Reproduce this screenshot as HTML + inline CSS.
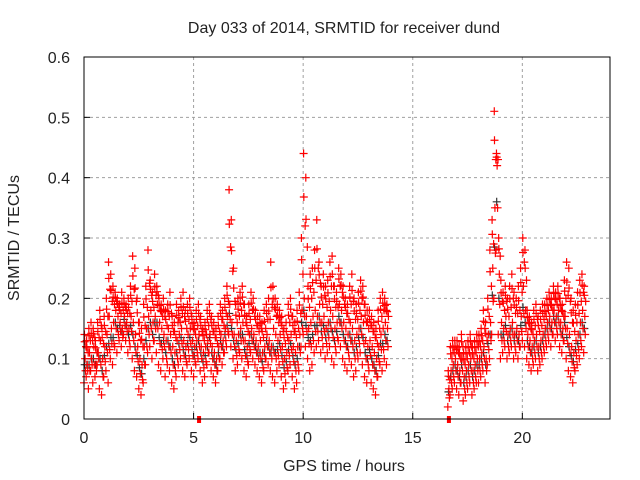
<!DOCTYPE html>
<html><head><meta charset="utf-8"><style>
body{margin:0;background:#fff}
svg{display:block;font-family:"Liberation Sans",sans-serif}
</style></head><body>
<svg id="c" width="640" height="480">
<rect width="640" height="480" fill="#fff"/>
<text x="344" y="33" font-size="16" fill="#222" text-anchor="middle">Day 033 of 2014, SRMTID for receiver dund</text>
<text x="344" y="471" font-size="16" fill="#222" text-anchor="middle">GPS time / hours</text>
<text transform="translate(19,238) rotate(-90)" font-size="16" fill="#222" text-anchor="middle">SRMTID / TECUs</text>
<g id="grid"></g><g id="ticks"></g><g id="marks"></g>
<rect x="84" y="57" width="526" height="362" fill="none" stroke="#000" stroke-width="1"/>
</svg>
<script>
const segStart=[0.0,16.6];
const lo1=[0.06,0.07,0.05,0.08,0.06,0.07,0.09,0.05,0.04,0.07,0.08,0.06,0.10,0.09,0.12,0.11,0.13,0.12,0.14,0.13,0.11,0.12,0.10,0.08,0.07,0.05,0.04,0.06,0.09,0.11,0.12,0.10,0.13,0.11,0.09,0.08,0.10,0.07,0.09,0.08,0.06,0.05,0.07,0.09,0.10,0.08,0.07,0.09,0.10,0.08,0.07,0.09,0.10,0.08,0.06,0.07,0.09,0.11,0.08,0.07,0.06,0.08,0.10,0.09,0.11,0.12,0.14,0.12,0.10,0.08,0.09,0.11,0.10,0.08,0.07,0.09,0.11,0.10,0.09,0.08,0.07,0.06,0.08,0.10,0.09,0.08,0.07,0.06,0.08,0.09,0.07,0.05,0.06,0.08,0.09,0.07,0.05,0.06,0.08,0.12,0.14,0.12,0.10,0.08,0.09,0.11,0.12,0.13,0.11,0.12,0.10,0.11,0.12,0.10,0.09,0.11,0.13,0.12,0.10,0.09,0.08,0.10,0.09,0.07,0.08,0.10,0.11,0.09,0.07,0.06,0.08,0.06,0.05,0.04,0.07,0.09,0.08,0.10,0.09];
const mid1=[0.10,0.09,0.11,0.10,0.12,0.09,0.11,0.13,0.10,0.12,0.14,0.17,0.15,0.16,0.18,0.17,0.16,0.15,0.17,0.16,0.15,0.17,0.16,0.14,0.12,0.10,0.09,0.12,0.15,0.17,0.18,0.16,0.17,0.19,0.16,0.15,0.14,0.13,0.15,0.14,0.12,0.11,0.13,0.14,0.15,0.13,0.12,0.14,0.15,0.13,0.12,0.13,0.14,0.12,0.11,0.12,0.13,0.14,0.12,0.11,0.10,0.12,0.14,0.13,0.15,0.17,0.19,0.16,0.14,0.13,0.14,0.15,0.16,0.13,0.12,0.14,0.15,0.14,0.13,0.12,0.13,0.11,0.12,0.14,0.13,0.12,0.15,0.14,0.13,0.14,0.12,0.10,0.11,0.13,0.14,0.12,0.11,0.12,0.14,0.18,0.20,0.17,0.15,0.16,0.17,0.18,0.17,0.19,0.16,0.17,0.15,0.16,0.18,0.17,0.15,0.16,0.19,0.18,0.16,0.15,0.14,0.16,0.15,0.13,0.14,0.15,0.17,0.16,0.13,0.12,0.13,0.12,0.11,0.10,0.12,0.14,0.15,0.16,0.15];
const hi1=[0.14,0.13,0.15,0.16,0.15,0.13,0.16,0.18,0.15,0.17,0.20,0.26,0.24,0.22,0.21,0.20,0.19,0.21,0.20,0.19,0.20,0.22,0.27,0.25,0.20,0.16,0.15,0.19,0.22,0.28,0.23,0.21,0.24,0.22,0.20,0.19,0.20,0.18,0.19,0.21,0.17,0.16,0.19,0.18,0.20,0.21,0.18,0.19,0.20,0.17,0.16,0.18,0.19,0.17,0.15,0.16,0.18,0.19,0.17,0.16,0.15,0.17,0.19,0.18,0.20,0.22,0.38,0.33,0.25,0.19,0.20,0.21,0.22,0.19,0.17,0.19,0.21,0.20,0.18,0.17,0.17,0.16,0.18,0.19,0.20,0.26,0.22,0.20,0.19,0.18,0.17,0.15,0.16,0.19,0.20,0.17,0.16,0.18,0.21,0.30,0.44,0.40,0.22,0.24,0.25,0.28,0.33,0.26,0.22,0.24,0.22,0.23,0.26,0.27,0.22,0.21,0.25,0.24,0.22,0.20,0.19,0.22,0.24,0.20,0.19,0.21,0.23,0.22,0.19,0.18,0.18,0.17,0.16,0.15,0.18,0.20,0.21,0.20,0.19];
const lo2=[0.02,0.04,0.05,0.06,0.05,0.04,0.06,0.03,0.04,0.05,0.06,0.04,0.05,0.06,0.06,0.07,0.08,0.06,0.09,0.10,0.14,0.20,0.28,0.14,0.10,0.11,0.12,0.10,0.11,0.12,0.10,0.11,0.10,0.12,0.13,0.12,0.10,0.09,0.08,0.09,0.10,0.08,0.09,0.10,0.11,0.12,0.13,0.12,0.14,0.13,0.14,0.12,0.11,0.13,0.10,0.08,0.07,0.06,0.08,0.09,0.10,0.12,0.11];
const mid2=[0.05,0.08,0.09,0.10,0.09,0.08,0.10,0.07,0.08,0.09,0.10,0.08,0.09,0.10,0.10,0.11,0.12,0.10,0.14,0.16,0.25,0.35,0.42,0.24,0.16,0.15,0.17,0.14,0.15,0.16,0.14,0.15,0.14,0.17,0.22,0.18,0.14,0.13,0.12,0.13,0.14,0.12,0.13,0.14,0.15,0.16,0.17,0.16,0.18,0.17,0.18,0.16,0.15,0.17,0.15,0.14,0.12,0.11,0.13,0.14,0.16,0.18,0.17];
const hi2=[0.08,0.12,0.13,0.13,0.13,0.12,0.14,0.11,0.12,0.13,0.14,0.12,0.13,0.14,0.14,0.15,0.18,0.16,0.20,0.28,0.33,0.51,0.44,0.30,0.23,0.21,0.22,0.20,0.22,0.24,0.21,0.20,0.22,0.25,0.30,0.28,0.18,0.17,0.16,0.18,0.19,0.17,0.18,0.19,0.19,0.20,0.21,0.20,0.22,0.21,0.22,0.20,0.19,0.23,0.26,0.25,0.20,0.18,0.19,0.21,0.23,0.24,0.22];
const xTicks=[0,5,10,15,20];
const yTicks=[0,0.1,0.2,0.3,0.4,0.5,0.6];
const gapMarks=[5.25,16.65];
const X0=84,X1=610,Y0=419,Y1=57,XMAX=24,YMAX=0.6;
const sx=v=>X0+v/XMAX*(X1-X0), sy=v=>Y0-v/YMAX*(Y0-Y1);
const NS='http://www.w3.org/2000/svg';
function mk(p,tag,a){const e=document.createElementNS(NS,tag);for(const k in a)e.setAttribute(k,a[k]);p.appendChild(e);return e;}
const grid=document.getElementById('grid'),ticks=document.getElementById('ticks'),marks=document.getElementById('marks');
xTicks.forEach(t=>{const x=sx(t);
 if(t>0){const g=mk(grid,'line',{x1:x,x2:x,y1:Y1,y2:Y0,stroke:'#a0a0a0','stroke-dasharray':'3,3'});
 
 }
 const l=mk(ticks,'line',{x1:x,x2:x,y1:Y0,y2:Y0-6,stroke:'#000'});
 
 
 const tx=mk(ticks,'text',{x:x,y:Y0+24,'font-size':16,fill:'#222','text-anchor':'middle'});tx.textContent=t;
 
 });
yTicks.forEach(t=>{const y=sy(t);
 if(t>0&&t<0.6){const g=mk(grid,'line',{x1:X0,x2:X1,y1:y,y2:y,stroke:'#a0a0a0','stroke-dasharray':'3,3'});
 
 }
 const l=mk(ticks,'line',{x1:X0,x2:X0+6,y1:y,y2:y,stroke:'#000'});
 
 
 const tx=mk(ticks,'text',{x:X0-14,y:y+6,'font-size':16,fill:'#222','text-anchor':'end'});tx.textContent=t===0?'0':t.toFixed(1);
 
 });
function cross(t,v,col,name){const x=sx(t),y=sy(v);
 const p=mk(marks,'path',{d:`M${x-4},${y}h8M${x},${y-4}v8`,stroke:col,'stroke-width':1.2,fill:'none'});
 
 }
[[lo1,mid1,hi1],[lo2,mid2,hi2]].forEach((s,k)=>{const [lo,mid,hi]=s;
 lo.forEach((_,i)=>{const t=segStart[k]+i*0.1;
  cross(t+0.03,(lo[i]+mid[i])/2+0.01,'#333','point-black');});
 lo.forEach((_,i)=>{const t=segStart[k]+i*0.1;
  cross(t,lo[i],'#f00','point');
  cross(t+0.05,mid[i],'#f00','point');
  cross(t+0.02,hi[i],'#f00','point');
  cross(t+0.03,(hi[i]*0.7+mid[i]*0.3),'#f00','point');
  cross(t+0.07,(lo[i]+mid[i])/2,'#f00','point');
  cross(t+0.09,(mid[i]+hi[i])/2,'#f00','point');});});
gapMarks.forEach(t=>{const r=mk(marks,'rect',{x:sx(t)-2,y:Y0-3,width:4,height:7,fill:'#f00'});
 
 });
</script>
</body></html>
